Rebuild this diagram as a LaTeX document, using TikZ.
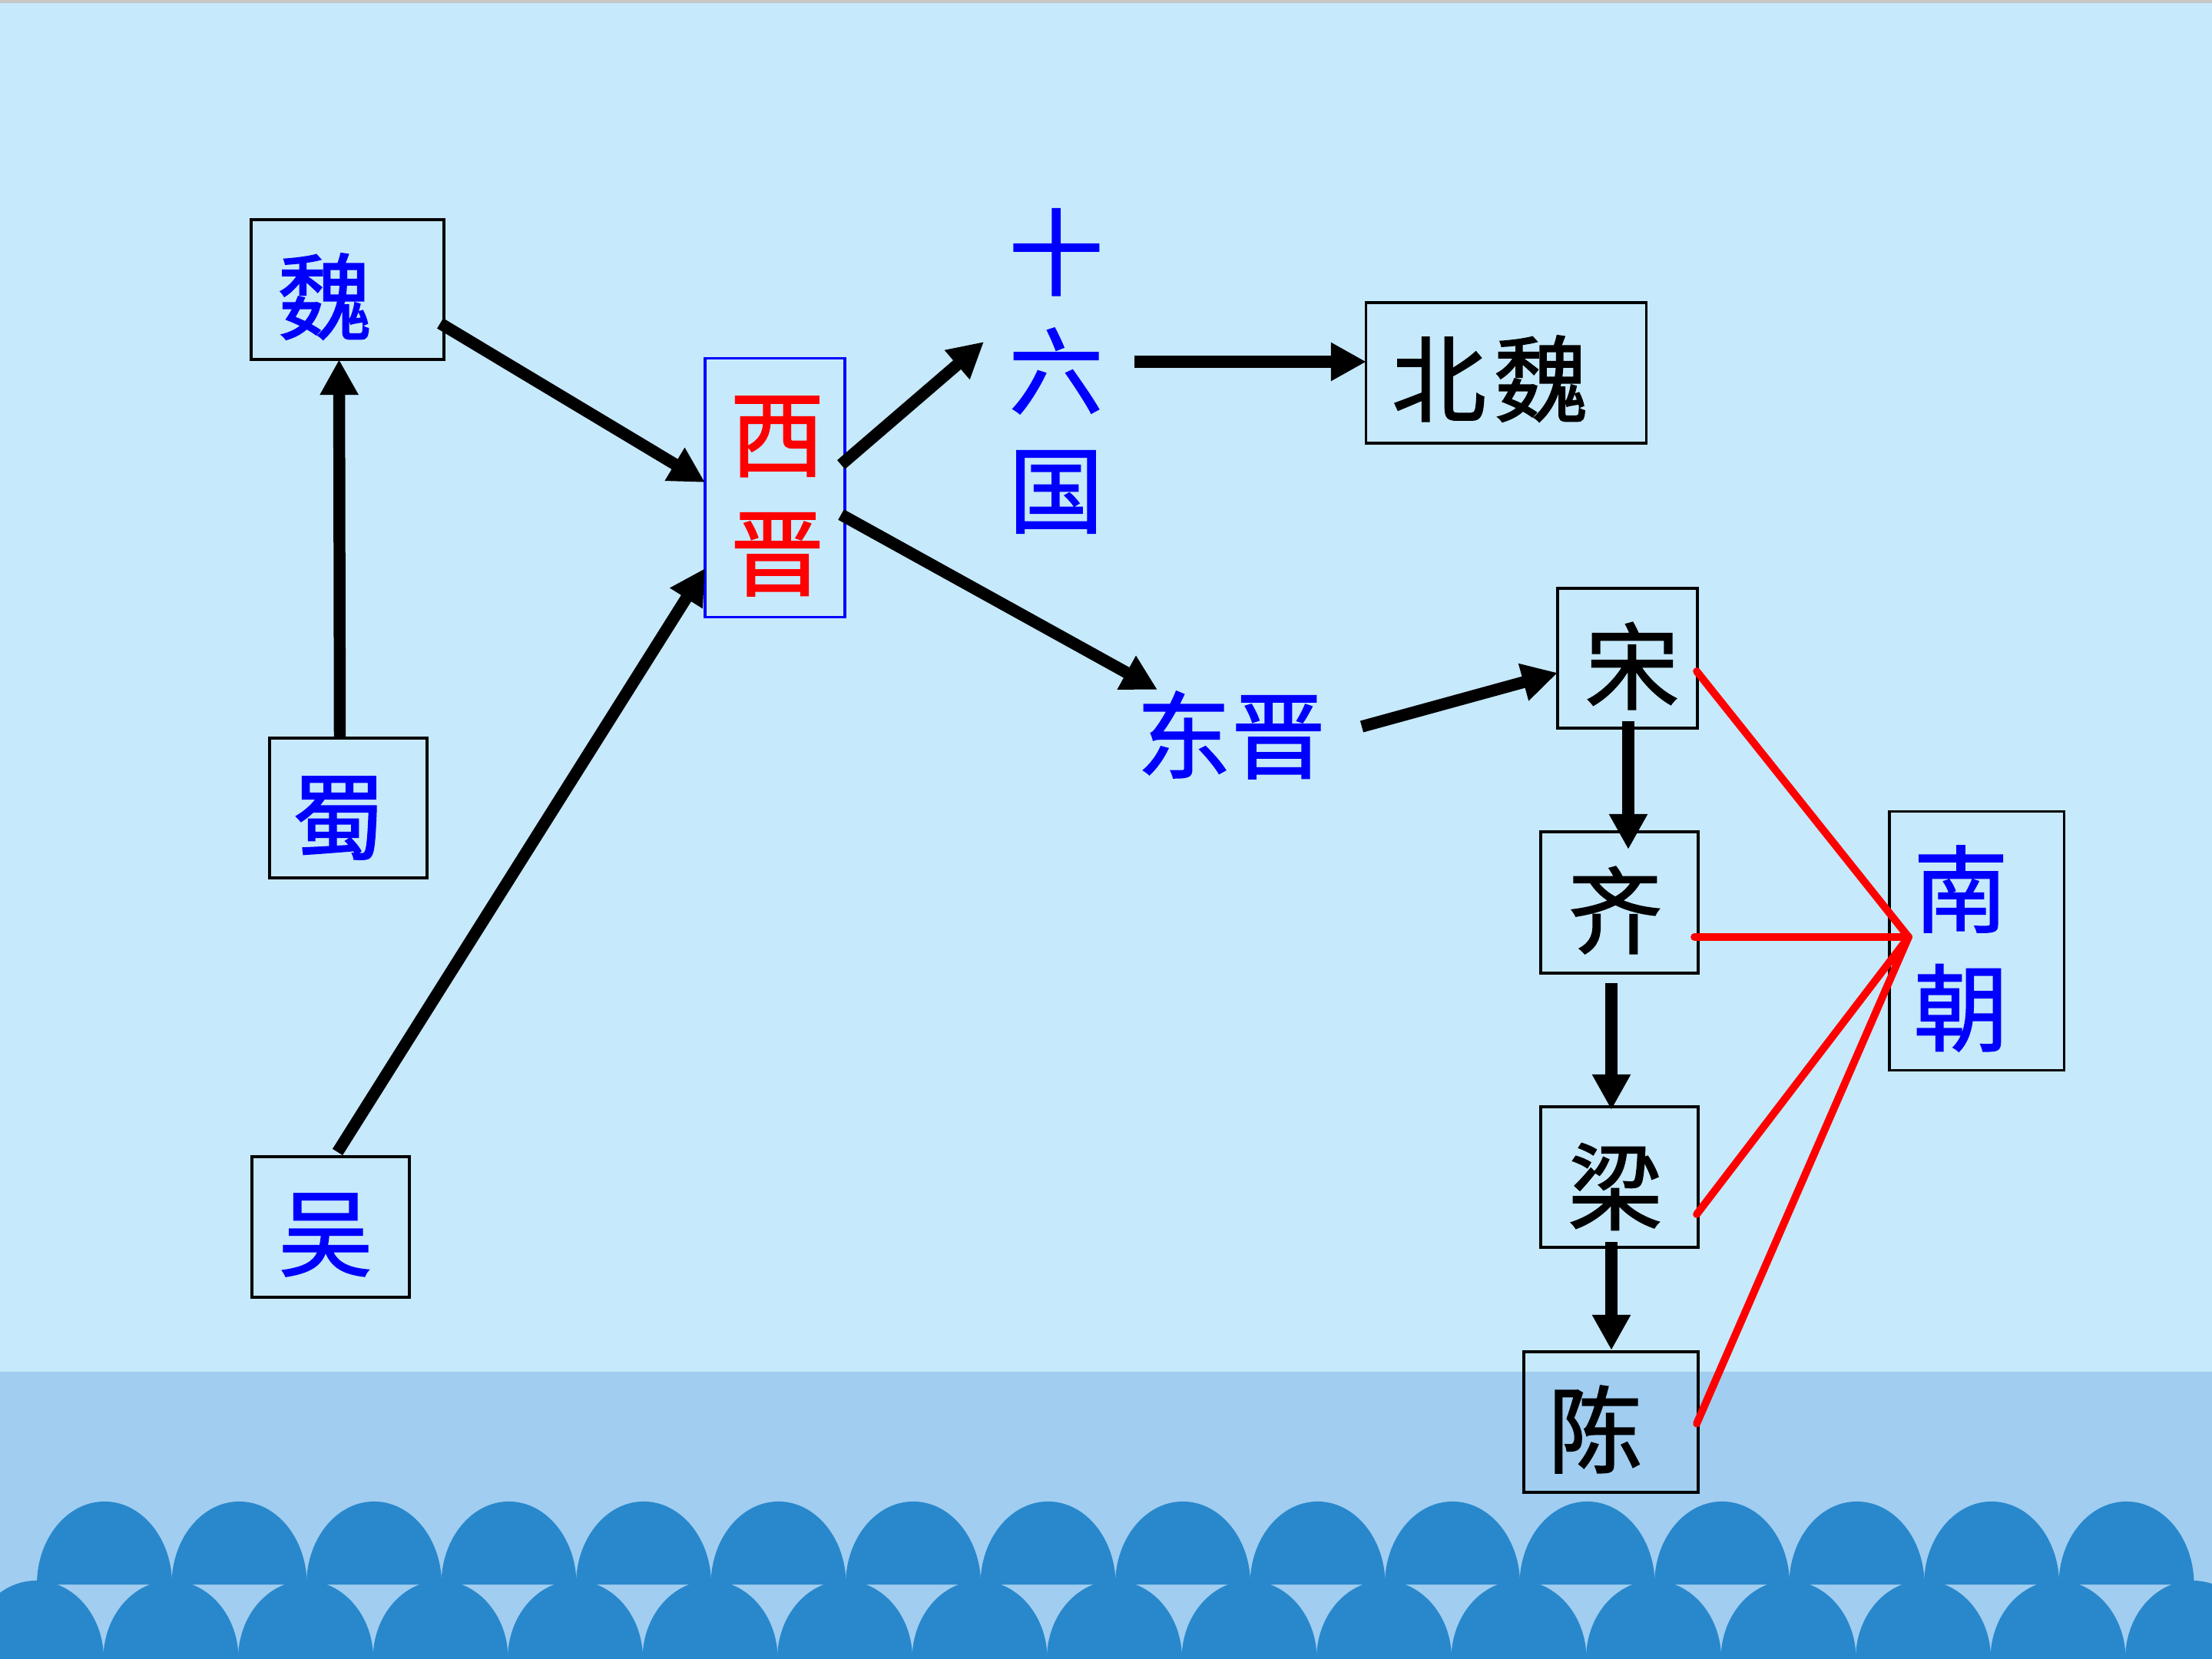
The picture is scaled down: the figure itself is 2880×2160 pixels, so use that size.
\documentclass[tikz,border=0pt]{standalone}
\usepackage{fontspec}
\newfontfamily\cjk[FakeBold=1.3]{Noto Sans CJK SC}
\usepackage{xcolor}
\usetikzlibrary{calc,positioning,arrows.meta}

\definecolor{skyback}{RGB}{198,233,251}
\definecolor{seaband}{RGB}{160,205,240}
\definecolor{wavefill}{RGB}{41,136,204}

\begin{document}
\begin{tikzpicture}[
    x=0.01cm, y=-0.01cm,
    framebox/.style = {
        draw,
        line width=0.9pt,
        inner sep=0pt,
        outer sep=0pt
    },
    hanzi/.style = {
        font=\cjk\fontsize{35}{44}\selectfont,
        inner sep=0pt,
        align=center
    },
    blueword/.style = {hanzi, text=blue},
    redword/.style = {hanzi, text=red},
    blackword/.style = {hanzi, text=black},
    flow/.style = {
        line width=4.4pt,
        -{Triangle[length=0.46cm, width=0.47cm]}
    },
    redlink/.style = {red, line width=2.8pt, line cap=round}
]
\useasboundingbox (0,0) rectangle (2880,2160);

% --- Fond ---
\fill[skyback] (0,0) rectangle (2880,2160);
\fill[gray!45] (0,0) rectangle (2880,4);
\fill[seaband] (0,1786) rectangle (2880,2160);

% --- Vagues ---
\begin{scope}
\clip (0,0) rectangle (2880,2160);
\foreach \k in {0,...,15} {
    \fill[wavefill] (48+175.5*\k,2063)
        arc[start angle=180, end angle=0, x radius=0.88cm, y radius=1.08cm] -- cycle;
}
\foreach \k in {0,...,16} {
    \fill[wavefill] (-41+175.5*\k,2160)
        arc[start angle=180, end angle=0, x radius=0.88cm, y radius=1.02cm] -- cycle;
}
\end{scope}

% --- Cadres ---
\node[framebox, minimum width=2.51cm, minimum height=1.82cm] (wei) at (452.5,377) {};
\node[framebox, minimum width=2.05cm, minimum height=1.82cm] (shu) at (453.5,1052) {};
\node[framebox, minimum width=2.05cm, minimum height=1.83cm] (wu) at (430.5,1597.5) {};
\node[framebox, draw=blue, minimum width=1.82cm, minimum height=3.36cm] (xijin) at (1009,635) {};
\node[framebox, minimum width=3.64cm, minimum height=1.83cm] (beiwei) at (1961,485.5) {};
\node[framebox, minimum width=1.82cm, minimum height=1.82cm] (song) at (2119,857) {};
\node[framebox, minimum width=2.05cm, minimum height=1.84cm] (qi) at (2108.5,1175) {};
\node[framebox, minimum width=2.05cm, minimum height=1.83cm] (liang) at (2108.5,1532.5) {};
\node[framebox, minimum width=2.27cm, minimum height=1.83cm] (chen) at (2097.5,1851.5) {};
\node[framebox, minimum width=2.27cm, minimum height=3.36cm] (nanchao) at (2573.5,1225) {};

% --- Textes ---
\node[blueword] (wei-t) at (423,386) {魏};
\node[blueword] (shu-t) at (441,1065) {蜀};
\node[blueword] (wu-t) at (424,1608) {吴};
\node[redword] (xijin-t) at (1012,646) {西\\晋};
\node[blueword] (shiliu) at (1375,483) {十\\六\\国};
\node[blackword] (beiwei-t) at (1940,493) {北\hspace{0.1cm}魏};
\node[blueword] (dongjin) at (1603,957) {东晋};
\node[blackword] (song-t) at (2125,867) {宋};
\node[blackword] (qi-t) at (2103,1185) {齐};
\node[blackword] (liang-t) at (2103,1545) {梁};
\node[blackword] (chen-t) at (2077,1861) {陈};
\node[blueword] (nanchao-t) at (2553,1235) {南\\朝};

% --- Flèches ---
\draw[flow] ($(shu.north)+(-11,0)$) -- ($(wei.south)+(-11,0)$);
\draw[flow] ($(wei.east)+(-5,44)$) -- ($(xijin.west)+(0,-7)$);
\draw[flow] ($(wu.north)+(9,-6)$) -- ($(xijin.west)+(0,105)$);
\draw[flow] ($(xijin.east)+(-5,-30)$) -- ($(shiliu)+(-94,-38)$);
\draw[flow] ($(xijin.east)+(-5,35)$) -- ($(dongjin)+(-96,-59)$);
\draw[flow] ($(shiliu)+(102,-12)$) -- ($(beiwei.west)+(0,-14.5)$);
\draw[flow] ($(dongjin)+(170,-11)$) -- ($(song.west)+(0,19)$);
\draw[flow] ($(song.south)+(1,-9)$) -- ($(qi.north)+(11.5,23)$);
\draw[flow] ($(qi.south)+(-10.5,13)$) -- ($(liang.north)+(-10.5,4)$);
\draw[flow] ($(liang.south)+(-10.5,-7)$) -- ($(chen.north)+(0.5,-2)$);

% --- Liens vers Nanchao ---
\coordinate (meet) at ($(nanchao.west)+(25,-5)$);
\draw[redlink] ($(song.east)+(-1,17)$) -- (meet);
\draw[redlink] ($(qi.east)+(-5,45)$) -- (meet);
\draw[redlink] ($(liang.east)+(-2,48.5)$) -- (meet);
\draw[redlink] ($(chen.east)+(-2,2)$) -- (meet);

\end{tikzpicture}
\end{document}
